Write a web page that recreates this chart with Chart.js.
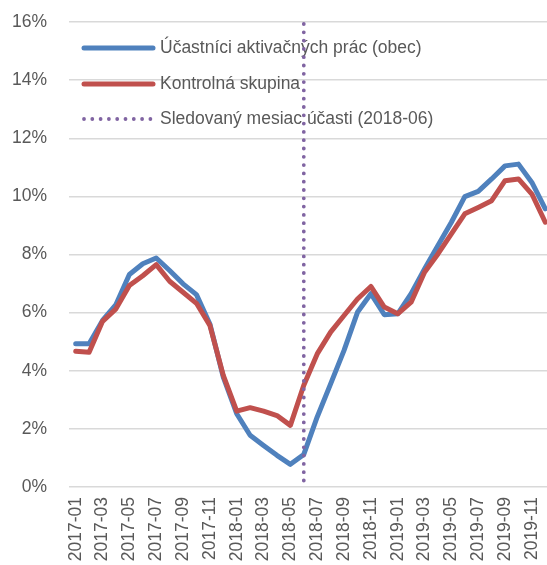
<!DOCTYPE html>
<html lang="sk">
<head>
<meta charset="UTF-8">
<title>Účastníci aktivačných prác</title>
<script src="https://cdn.jsdelivr.net/npm/chart.js"></script>
<style>
  html, body { margin: 0; padding: 0; background: #fff; overflow: hidden; }
  #wrap { width: 552px; height: 565px; }
</style>
</head>
<body>
<div id="wrap"><canvas id="graf" width="552" height="565"></canvas></div>
<script>
// mesiace 2017-01 .. 2019-12
const mesiace = [
  '2017-01','2017-02','2017-03','2017-04','2017-05','2017-06','2017-07','2017-08','2017-09','2017-10','2017-11','2017-12',
  '2018-01','2018-02','2018-03','2018-04','2018-05','2018-06','2018-07','2018-08','2018-09','2018-10','2018-11','2018-12',
  '2019-01','2019-02','2019-03','2019-04','2019-05','2019-06','2019-07','2019-08','2019-09','2019-10','2019-11','2019-12'
];
// hodnoty v %
const ucastnici = [4.93, 4.93, 5.73, 6.28, 7.31, 7.68, 7.88, 7.45, 6.99, 6.62, 5.61, 3.78,
  2.52, 1.78, 1.43, 1.09, 0.78, 1.12, 2.41, 3.55, 4.70, 6.01, 6.65, 5.93,
  5.96, 6.65, 7.50, 8.31, 9.11, 9.99, 10.17, 10.60, 11.05, 11.11, 10.48, 9.57];
const kontrolna = [4.67, 4.64, 5.70, 6.13, 6.93, 7.27, 7.65, 7.08, 6.70, 6.32, 5.56, 3.84,
  2.61, 2.73, 2.61, 2.46, 2.12, 3.50, 4.58, 5.33, 5.90, 6.47, 6.90, 6.19,
  5.96, 6.36, 7.39, 8.02, 8.71, 9.40, 9.62, 9.85, 10.54, 10.60, 10.08, 9.11];
const sledovanyMesiac = '2018-06';
const nazvy = ['Účastníci aktivačných prác (obec)', 'Kontrolná skupina', 'Sledovaný mesiac účasti (2018-06)'];
const osY = { min: 0, max: 16, krok: 2 };

const modra = '#4F81BD';
const cervena = '#C0504D';
const fialova = '#8064A2';
const sediva = '#595959';

Chart.defaults.font.family = '"Liberation Sans", Arial, sans-serif';
Chart.defaults.font.size = 17.5;
Chart.defaults.color = sediva;

function bodky(ctx, x1, y1, x2, y2) {
  ctx.save();
  ctx.strokeStyle = fialova;
  ctx.lineWidth = 3.8;
  ctx.lineCap = 'round';
  ctx.setLineDash([0, 8.3]);
  ctx.beginPath();
  ctx.moveTo(x1, y1);
  ctx.lineTo(x2, y2);
  ctx.stroke();
  ctx.restore();
}

// legenda vo vnutri grafu + zvisla bodkovana ciara
const znacka = {
  id: 'znacka',
  afterDatasetsDraw(chart) {
    const { ctx, chartArea, scales } = chart;
    const x0 = chartArea.left + 15, x1 = x0 + 69, tx = x1 + 7;
    const riadky = [48, 84, 119];
    ctx.save();
    ctx.font = '17.5px "Liberation Sans", Arial, sans-serif';
    ctx.fillStyle = sediva;
    ctx.textBaseline = 'middle';
    [modra, cervena].forEach((c, i) => {
      ctx.strokeStyle = c;
      ctx.lineWidth = 5;
      ctx.lineCap = 'round';
      ctx.beginPath();
      ctx.moveTo(x0, riadky[i]);
      ctx.lineTo(x1, riadky[i]);
      ctx.stroke();
    });
    bodky(ctx, x0, riadky[2], x1, riadky[2]);
    nazvy.forEach((t, i) => ctx.fillText(t, tx, riadky[i]));
    ctx.restore();

    const x = scales.x.getPixelForValue(mesiace.indexOf(sledovanyMesiac));
    bodky(ctx, x, chartArea.top + 2, x, chartArea.bottom);
  }
};

new Chart(document.getElementById('graf'), {
  type: 'line',
  data: {
    labels: mesiace,
    datasets: [
      { label: nazvy[0], data: ucastnici, borderColor: modra, backgroundColor: modra, order: 1 },
      { label: nazvy[1], data: kontrolna, borderColor: cervena, backgroundColor: cervena, order: 0 }
    ]
  },
  options: {
    responsive: false,
    animation: false,
    layout: { padding: { top: 22, left: 0, right: 0, bottom: 0 } },
    elements: {
      line: { borderWidth: 5, tension: 0, borderJoinStyle: 'round', borderCapStyle: 'round' },
      point: { radius: 0, hoverRadius: 0 }
    },
    plugins: { legend: { display: false }, tooltip: { enabled: false } },
    scales: {
      x: {
        offset: true,
        grid: { display: false },
        border: { display: false },
        ticks: {
          autoSkip: false, minRotation: 90, maxRotation: 90, padding: 2,
          callback: (v, i) => (i % 2 === 0 ? mesiace[i] : '')
        },
        afterFit: s => { s.height = 78; s.paddingLeft = 0; s.paddingRight = 0; }
      },
      y: {
        min: osY.min, max: osY.max,
        grid: { color: '#D9D9D9', lineWidth: 1.5, drawTicks: false },
        border: { display: false },
        ticks: { stepSize: osY.krok, padding: 22, callback: v => v + '%' },
        afterFit: s => { s.width = 69; s.paddingTop = 0; s.paddingBottom = 0; }
      }
    }
  },
  plugins: [znacka]
});
</script>
</body>
</html>
